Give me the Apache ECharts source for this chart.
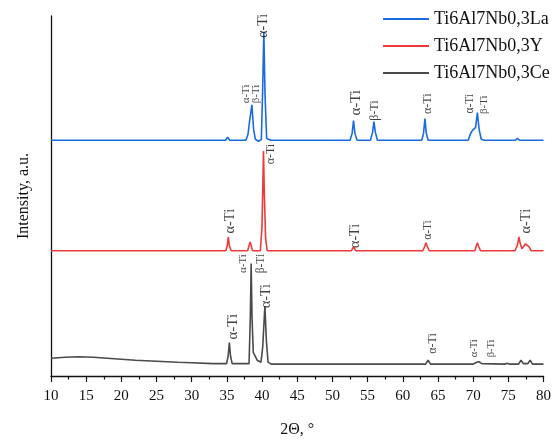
<!DOCTYPE html>
<html>
<head>
<meta charset="utf-8">
<style>html,body{margin:0;padding:0;background:#fff}#c{width:554px;height:443px}</style>
<script src="https://cdn.jsdelivr.net/npm/echarts@6/dist/echarts.min.js"></script>
</head>
<body>
<div id="c"></div>
<script>
const seriesNames = ['Ti6Al7Nb0,3La', 'Ti6Al7Nb0,3Y', 'Ti6Al7Nb0,3Ce'];
const xTicks = [10, 15, 20, 25, 30, 35, 40, 45, 50, 55, 60, 65, 70, 75, 80];

const laTheta = [10,20,30,34.8,35.1,35.4,37.7,38.0,38.2,38.35,38.55,38.8,39.05,39.5,39.9,40.08,40.25,40.42,40.65,41.2,52.5,52.8,53.0,53.2,53.5,55.4,55.7,55.9,56.1,56.4,62.7,62.95,63.15,63.35,63.6,69.3,69.65,69.9,70.1,70.35,70.6,70.85,71.15,71.6,76.0,76.3,76.6,80];
const laInt   = [239,239,239,239,242,239,239,245,257,256,275,250,240,238,240,290,349,285,241,239,239,246,259,246,239,239,247,258,247,239,239,246,261,246,239,239,246,249,247,252,267,250,240,239,239,241,239,239];

const yTheta = [10,30,34.85,35.05,35.2,35.35,35.6,37.95,38.3,38.65,39.75,39.98,40.1,40.2,40.32,40.5,40.72,52.7,53.0,53.3,62.85,63.1,63.3,63.5,63.75,70.25,70.45,70.6,70.8,71.05,75.95,76.3,76.5,76.7,76.95,77.2,77.45,77.7,77.95,78.25,80];
const yInt   = [127,127,127,132,141,132,127,127,136,127,127,150,190,228,185,140,127,127,131,127,127,131,135,131,127,127,132,135,131,127,127,133,141,134,129,131,134,135,131,127,127];

const ceTheta = [10,12,14,16,18,20,22,25,28,30,33,34.95,35.18,35.35,35.52,35.75,38.15,38.33,38.45,38.57,38.75,39.0,39.3,39.85,40.1,40.4,40.62,40.85,41.3,52.8,53.0,53.2,63.25,63.6,63.95,70.0,70.5,70.8,71.25,74.5,74.8,75.2,76.45,76.8,77.15,77.75,78.1,78.45,80];
const ceInt   = [18,19,19.5,19,18,17,16,15,14,13.5,12.5,12.5,20,34,20,12.5,12.5,60,114,60,24,22,16,14,30,71,35,14,12,12,13.5,12,12,16,12,12,14,14.5,12.5,12,13,12,12,16,12.5,12.5,16,12,12];

// phase annotations: position in chart units, text, size, rotation
const annText   = ['α-Ti','β-Ti','α-Ti','α-Ti','β-Ti','α-Ti','α-Ti','β-Ti',
                   'α-Ti','α-Ti','α-Ti','α-Ti','α-Ti',
                   'α-Ti','α-Ti','β-Ti','α-Ti','α-Ti','α-Ti','β-Ti'];
const annTheta  = [37.7,39.1,40.15,53.3,56.0,63.6,69.5,71.6,
                   35.4,41.3,53.3,63.6,77.5,
                   35.9,37.3,39.9,40.6,64.3,70.2,72.6];
const annLevel  = [286,286,355,277,269,276,276,275,
                   157,225,142,148,157,
                   50,114,114,81,33,28,28];
const annSize   = [11,11,14,15,12,12,11.5,11,
                   14.5,12,14,11.5,14.5,
                   15,11,11.5,14,12,10.5,10.5];
const annRotate = [90,90,90,90,90,90,90,90,
                   90,90,90,90,90,
                   90,90,90,90,90,90,90];

const colors = ['#1a6ae0', '#ef3a3a', '#4a4a4a'];
const FONT = 'Liberation Serif';

function zip(a, b) { return a.map((v, i) => [v, b[i]]); }

const chart = echarts.init(document.getElementById('c'), null, {renderer: 'canvas'});
const lineData = [zip(laTheta, laInt), zip(yTheta, yInt), zip(ceTheta, ceInt)];

const series = lineData.map((d, i) => ({
  name: seriesNames[i],
  type: 'line',
  data: d,
  symbol: 'none',
  lineStyle: {width: 1.6, color: colors[i]},
  itemStyle: {color: colors[i]},
  animation: false,
  z: 3 - i
}));

series.push({
  type: 'scatter',
  symbolSize: 0,
  silent: true,
  animation: false,
  data: annText.map((t, i) => ({
    value: [annTheta[i], annLevel[i]],
    name: t,
    label: {rotate: annRotate[i], fontSize: annSize[i]}
  })),
  label: {
    show: true,
    position: 'inside',
    formatter: p => p.name,
    color: '#111',
    fontFamily: FONT
  },
  z: 10
});

chart.setOption({
  animation: false,
  grid: {left: 51, right: 10, top: 16, bottom: 62},
  legend: {
    data: seriesNames,
    left: 382,
    top: 10,
    padding: 0,
    orient: 'vertical',
    itemWidth: 46,
    itemHeight: 14,
    itemGap: 9,
    itemStyle: {opacity: 0},
    textStyle: {fontFamily: FONT, fontSize: 18, lineHeight: 17, color: '#111'}
  },
  xAxis: {
    type: 'value',
    min: 10, max: 80, interval: 5,
    name: '2Θ, °',
    nameLocation: 'middle',
    nameGap: 46,
    nameTextStyle: {fontFamily: FONT, fontSize: 16, color: '#111'},
    axisLine: {lineStyle: {color: '#111', width: 1.3}},
    axisTick: {show: true, inside: false, length: 6, lineStyle: {color: '#111', width: 1.2}},
    minorTick: {show: true, splitNumber: 2, length: 3.5, lineStyle: {color: '#111', width: 1.2}},
    axisLabel: {
      fontFamily: FONT, fontSize: 15, color: '#111', margin: 13,
      formatter: v => xTicks.includes(v) ? String(v) : ''
    },
    splitLine: {show: false}
  },
  yAxis: {
    type: 'value',
    min: 0, max: 365,
    name: 'Intensity, a.u.',
    nameLocation: 'middle',
    nameGap: 19,
    nameTextStyle: {fontFamily: FONT, fontSize: 16, color: '#111'},
    axisLine: {show: true, lineStyle: {color: '#111', width: 1.3}},
    axisTick: {show: false},
    axisLabel: {show: false},
    splitLine: {show: false}
  },
  series: series
});
</script>
</body>
</html>
